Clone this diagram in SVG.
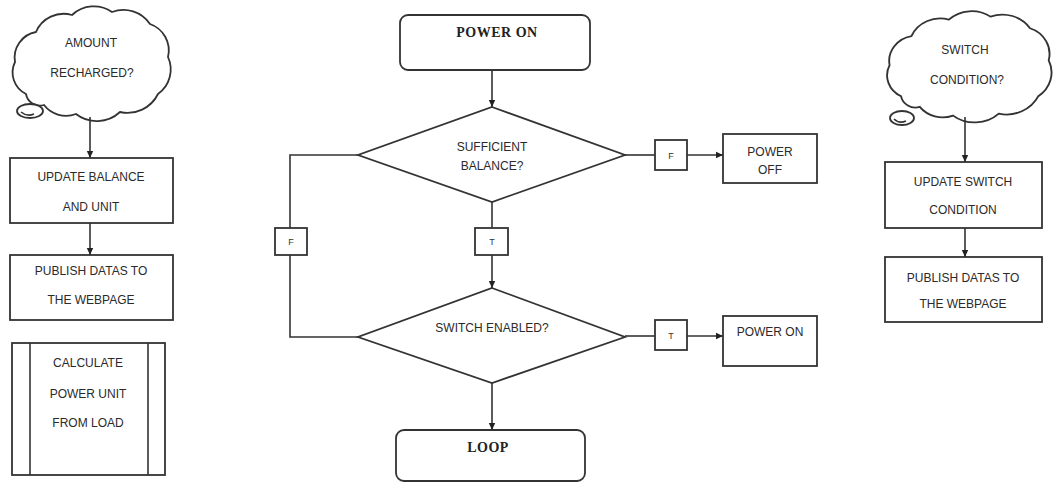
<svg xmlns="http://www.w3.org/2000/svg" width="1054" height="483" viewBox="0 0 1054 483">
<defs>
<style>
.sh{fill:#fff;stroke:#333;stroke-width:1.8}
.ln{fill:none;stroke:#333;stroke-width:1.6}
.t{font-family:"Liberation Sans",Arial,sans-serif;font-size:12px;fill:#2a2a2a;text-anchor:middle;dominant-baseline:central}
.b{font-family:"Liberation Serif","Times New Roman",serif;font-size:14px;font-weight:bold;fill:#222;text-anchor:middle;dominant-baseline:central;letter-spacing:0.5px}
.s{font-family:"Liberation Sans",Arial,sans-serif;font-size:9px;fill:#333;text-anchor:middle;dominant-baseline:central}
</style>
<marker id="ah" markerWidth="8" markerHeight="8" refX="7" refY="4" orient="auto" markerUnits="userSpaceOnUse">
<path d="M0,0.8 L7,4 L0,7.2 Z" fill="#222"/>
</marker>
<path id="cloud" d="M26,94 A24,24 0 0 1 15,62 A26,26 0 0 1 36,32 A30,30 0 0 1 72,15 A32,32 0 0 1 112,12 A32,32 0 0 1 150,24 A28,28 0 0 1 168,57 A30,30 0 0 1 158,94 A34,34 0 0 1 120,112 A34,34 0 0 1 76,114 A28,28 0 0 1 44,105 A14,14 0 0 1 26,94 Z"/>
</defs>

<g id="cloud-amount">
<use href="#cloud" class="sh"/>
<ellipse cx="30" cy="111" rx="13" ry="7" class="sh"/>
<path d="M21,112 Q27,117 34,114" class="ln" stroke-width="1"/>
<text class="t" x="91" y="43">AMOUNT</text>
<text class="t" x="92" y="73">RECHARGED?</text>
</g>

<g id="update-balance">
<rect x="10" y="158" width="163" height="65" class="sh"/>
<text class="t" x="91" y="177">UPDATE BALANCE</text>
<text class="t" x="91" y="207">AND UNIT</text>
</g>

<g id="publish-left">
<rect x="10" y="255" width="163" height="65" class="sh"/>
<text class="t" x="91" y="271">PUBLISH DATAS TO</text>
<text class="t" x="91" y="300">THE WEBPAGE</text>
</g>

<g id="calculate">
<rect x="12" y="343" width="153" height="132" class="sh"/>
<line x1="30" y1="343" x2="30" y2="475" class="ln"/>
<line x1="148" y1="343" x2="148" y2="475" class="ln"/>
<text class="t" x="88" y="363">CALCULATE</text>
<text class="t" x="88" y="394">POWER UNIT</text>
<text class="t" x="88" y="423">FROM LOAD</text>
</g>

<g id="power-on-start">
<rect x="400" y="15" width="190" height="55" rx="8" class="sh"/>
<text class="b" x="497" y="32">POWER ON</text>
</g>

<g id="sufficient-balance">
<polygon points="492,107 625,155 492,202 358,155" class="sh"/>
<text class="t" x="492" y="147">SUFFICIENT</text>
<text class="t" x="492" y="166">BALANCE?</text>
</g>

<g id="switch-enabled">
<polygon points="492,288 625,337 492,383 358,337" class="sh"/>
<text class="t" x="492" y="328">SWITCH ENABLED?</text>
</g>

<g id="loop">
<rect x="396" y="430" width="189" height="51" rx="8" class="sh"/>
<text class="b" x="488" y="447">LOOP</text>
</g>

<g id="power-off">
<rect x="723" y="134" width="94" height="49" class="sh"/>
<text class="t" x="770" y="152">POWER</text>
<text class="t" x="770" y="170">OFF</text>
</g>

<g id="power-on-end">
<rect x="723" y="316" width="94" height="50" class="sh"/>
<text class="t" x="770" y="332">POWER ON</text>
</g>

<g id="cloud-switch">
<use href="#cloud" class="sh" transform="translate(874,5) scale(1.04,0.97)"/>
<ellipse cx="902" cy="118" rx="12" ry="7" class="sh"/>
<path d="M894,119 Q899,124 906,121" class="ln" stroke-width="1"/>
<text class="t" x="965" y="50">SWITCH</text>
<text class="t" x="967" y="80">CONDITION?</text>
</g>

<g id="update-switch">
<rect x="885" y="162" width="157" height="66" class="sh"/>
<text class="t" x="963" y="182">UPDATE SWITCH</text>
<text class="t" x="963" y="210">CONDITION</text>
</g>

<g id="publish-right">
<rect x="885" y="257" width="157" height="65" class="sh"/>
<text class="t" x="963" y="278">PUBLISH DATAS TO</text>
<text class="t" x="963" y="304">THE WEBPAGE</text>
</g>

<g id="connectors">
<line x1="90" y1="117" x2="90" y2="158" class="ln" marker-end="url(#ah)"/>
<line x1="90" y1="223" x2="90" y2="255" class="ln" marker-end="url(#ah)"/>
<line x1="965" y1="117" x2="965" y2="162" class="ln" marker-end="url(#ah)"/>
<line x1="965" y1="228" x2="965" y2="257" class="ln" marker-end="url(#ah)"/>
<line x1="492" y1="70" x2="492" y2="107" class="ln" marker-end="url(#ah)"/>
<line x1="492" y1="202" x2="492" y2="228" class="ln"/>
<line x1="492" y1="255" x2="492" y2="288" class="ln" marker-end="url(#ah)"/>
<line x1="492" y1="383" x2="492" y2="430" class="ln" marker-end="url(#ah)"/>
<polyline points="358,155 290,155 290,228" class="ln"/>
<polyline points="290,255 290,337 358,337" class="ln"/>
<line x1="625" y1="155" x2="655" y2="155" class="ln"/>
<line x1="687" y1="155" x2="723" y2="155" class="ln" marker-end="url(#ah)"/>
<line x1="625" y1="336" x2="655" y2="336" class="ln"/>
<line x1="687" y1="336" x2="723" y2="336" class="ln" marker-end="url(#ah)"/>
<g id="label-f-left"><rect x="275" y="228" width="32" height="27" class="sh" stroke-width="1.4"/><text class="s" x="291" y="242">F</text></g>
<g id="label-t-mid"><rect x="475" y="228" width="33" height="27" class="sh" stroke-width="1.4"/><text class="s" x="492" y="242">T</text></g>
<g id="label-f-right"><rect x="655" y="140" width="32" height="30" class="sh" stroke-width="1.4"/><text class="s" x="671" y="156">F</text></g>
<g id="label-t-right"><rect x="655" y="320" width="32" height="30" class="sh" stroke-width="1.4"/><text class="s" x="671" y="336">T</text></g>
</g>
</svg>
